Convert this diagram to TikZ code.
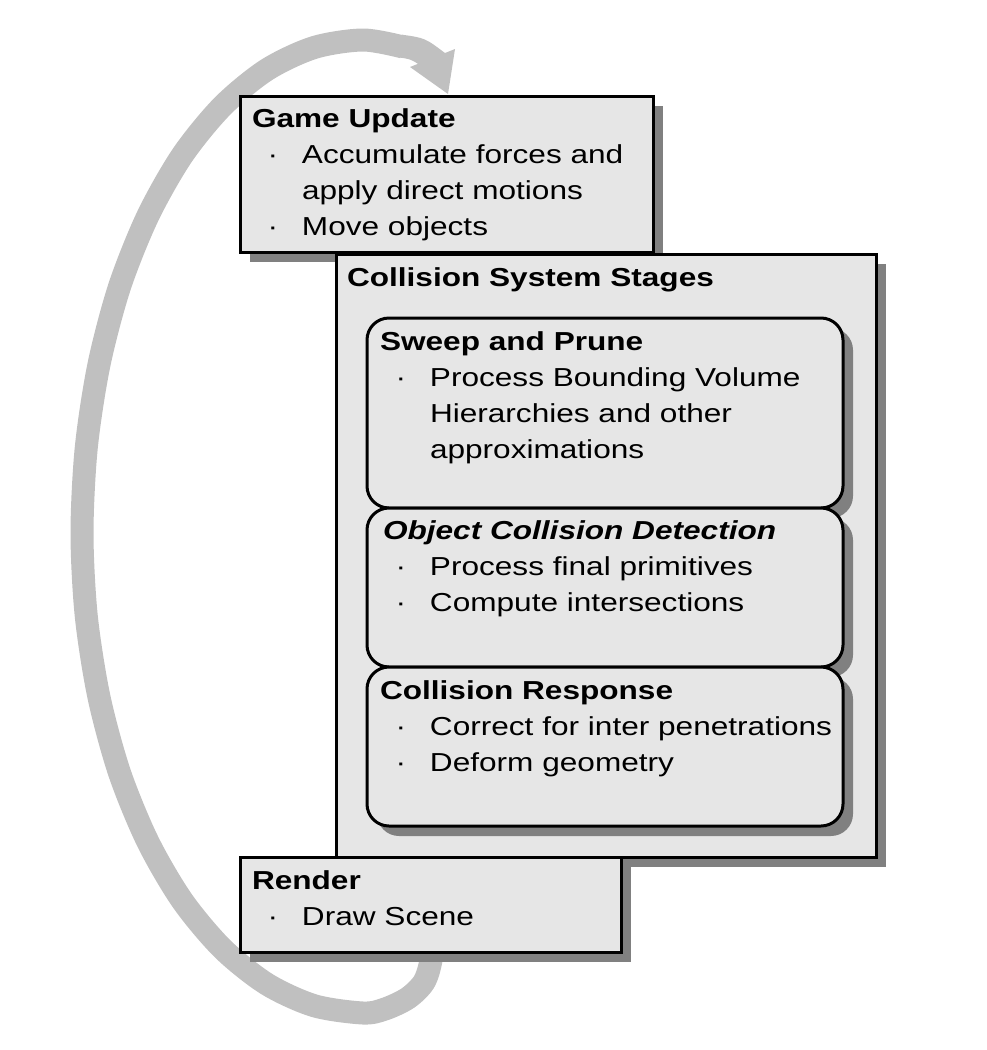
\documentclass[tikz,border=0pt]{standalone}
\usepackage{fontspec}
\setmainfont{Liberation Sans}[FakeStretch=1.215]
\usetikzlibrary{shadows}
\definecolor{boxfill}{HTML}{E6E6E6}
\definecolor{shadowgray}{HTML}{808080}
\definecolor{arcgray}{HTML}{C0C0C0}
\newcommand\bxtitle[1]{\hbox{\bfseries #1}}
\newcommand\bxitem[1]{\hbox{\makebox[50pt][l]{\hspace{15.6pt}·}#1}}
\newcommand\bxcont[1]{\hbox{\hspace{50pt}#1}}
\newcommand\bxlines[1]{\vtop{\baselineskip=36pt\lineskiplimit=-100pt #1}}
\begin{document}
\begin{tikzpicture}[x=1pt,y=-1pt,
  box/.style={draw=black, line width=3pt, fill=boxfill, anchor=north west,
    inner sep=0pt, outer sep=0pt,
    drop shadow={shadow xshift=10pt, shadow yshift=-10pt, fill=shadowgray, opacity=1}},
  stage/.style={box, rounded corners=22pt},
  txt/.style={anchor=base west, inner sep=0pt, outer sep=0pt,
    font=\fontsize{26}{36}\selectfont},
  cyclearc/.style={draw=arcgray, line width=23pt, line cap=butt}
]
\useasboundingbox (0,0) rectangle (986,1050);

% cycle arrow (behind boxes)
\draw[cyclearc] plot[smooth, tension=0.5] coordinates {
  (433,930) (431,960) (424,982) (408,998) (385,1009) (363,1013)
  (314.2,1005.7) (266.9,984.1) (222.5,948.7) (182.3,900.7) (147.8,841.6)
  (119.6,773) (99.0,697.2) (86.3,616.4) (82,533)
  (86.3,447.4) (99.0,364.4) (119.6,286.5) (147.8,216.1) (182.3,155.3)
  (222.5,106.1) (266.9,69.7) (314.2,47.5) (363,40) (403,47)};
\coordinate (headtip) at (448,94);
\fill[arcgray] (397.8,57.3) -- (402.2,34.7) .. controls (425,38) .. (445,53)
  -- (455,49) -- (headtip) -- (410,67) -- (418,63.8)
  .. controls (410,59) .. (397.8,57.3) -- cycle;

% Game Update
\node[box, minimum width=413pt, minimum height=156pt] (gu) at (240,96) {};
\node[txt] (gut) at (252,127) {\bxlines{%
  \bxtitle{Game Update}
  \bxitem{Accumulate forces and}
  \bxcont{apply direct motions}
  \bxitem{Move objects}}};

% Collision System Stages
\node[box, minimum width=540pt, minimum height=603pt] (css) at (336,254) {};
\node[txt] (csst) at (347,286) {\bfseries Collision System Stages};

% Sweep and Prune
\node[stage, minimum width=476pt, minimum height=190pt] (sp) at (367,318) {};
\node[txt] (spt) at (380,350) {\bxlines{%
  \bxtitle{Sweep and Prune}
  \bxitem{Process Bounding Volume}
  \bxcont{Hierarchies and other}
  \bxcont{approximations}}};

% Object Collision Detection
\node[stage, minimum width=476pt, minimum height=159pt] (ocd) at (367,508) {};
\node[txt] (ocdt) at (380,539) {\bxlines{%
  \hbox{\hspace{3pt}\bfseries\itshape Object Collision Detection}
  \bxitem{Process final primitives}
  \bxitem{Compute intersections}}};

% Collision Response
\node[stage, minimum width=476pt, minimum height=159pt] (cr) at (367,667) {};
\node[txt] (crt) at (380,699) {\bxlines{%
  \bxtitle{Collision Response}
  \bxitem{Correct for inter penetrations}
  \bxitem{Deform geometry}}};

% Render
\node[box, minimum width=381pt, minimum height=95pt] (rd) at (240,857) {};
\node[txt] (rdt) at (252,889) {\bxlines{%
  \bxtitle{Render}
  \bxitem{Draw Scene}}};
\end{tikzpicture}
\end{document}
